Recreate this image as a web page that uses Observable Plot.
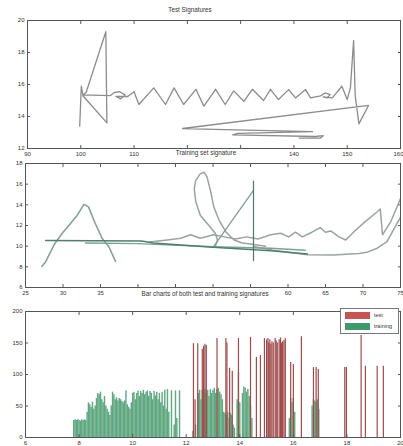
<!DOCTYPE html>
<html><head><meta charset="utf-8">
<script src="https://cdn.jsdelivr.net/npm/d3@7"></script>
<script src="https://cdn.jsdelivr.net/npm/@observablehq/plot@0.6"></script>
<style>
body{margin:0;background:#fff;font-family:"Liberation Sans",Arial,sans-serif;}
#wrap{position:relative;width:403px;height:446px;overflow:hidden;background:#fff}
#wrap svg{position:absolute;left:0;top:0;overflow:visible}
.t{position:absolute;font-size:6.3px;color:#333;white-space:nowrap;transform:translateX(-50%);background:#fff;line-height:7px;padding:0 2px}
.lg{position:absolute;left:340px;top:308px;width:57px;height:24px;border:1px solid #777;background:#fff}
.sw{position:absolute;left:4px;width:25px;height:7px}
.lt{position:absolute;left:33px;font-size:5.5px;color:#333;line-height:6px}
</style></head><body><div id="wrap"></div>
<script>
// ---------- data ----------
// Panel 1: test signature (pen trajectory)
const testX = [99.8,100.1,100.4,104.9,104.7,101.0,100.4,105.5,106.3,107.3,108.3,107.5,106.6,108.8,110.0,110.9,113.7,115.9,117.5,119.3,121.6,123.1,125.3,127.1,128.7,130.6,132.2,134.3,135.6,137.1,139.0,140.3,142.2,143.1,145.0,145.9,146.8,146.2,145.5,147.2,149.0,150.0,150.6,151.2,151.5,152.2,154.0,119.1,125.0,143.5,129.5,128.5,144.0,145.5,145.0,141.0];
const testY = [13.4,15.9,15.3,13.6,19.3,15.5,15.35,15.3,15.5,15.55,15.35,15.1,15.25,15.25,15.55,14.75,15.79,14.75,15.79,14.75,15.7,14.65,15.7,14.75,15.6,14.95,15.7,15.0,15.7,15.06,15.68,15.16,15.68,15.16,15.29,15.48,15.37,15.16,15.23,15.16,15.89,15.06,15.79,18.75,15.3,13.54,14.69,13.25,13.2,13.05,12.95,12.85,12.75,12.8,12.65,12.65];
const p1XTicks = [90,100,110,120,130,140,150,160];
const p1YTicks = [12,14,16,18,20];

// Panel 2: training set signature strokes
const trainAX = [27.2,27.7,28.8,29.9,31.0,31.9,32.8,33.4,34.3,35.2,36.1,36.8,37.0];
const trainAY = [8.05,8.5,10.13,11.25,12.2,13.0,14.04,13.8,12.2,10.77,9.97,8.85,8.53];
const trainFlat1X = [27.7,34.0,40.5,42.0,50.0,57.7,62.6];
const trainFlat1Y = [10.55,10.52,10.5,10.3,9.9,9.55,9.25];
const trainFlat2X = [33.0,40.0,41.5,50.0,57.7,62.3];
const trainFlat2Y = [10.3,10.25,10.2,9.95,9.8,9.6];
const trainVertX = [55.4,55.4];
const trainVertY = [8.6,16.3];
const trainDiagX = [50.1,55.4];
const trainDiagY = [9.97,15.4];
const trainLoopX = [50.3,50.6,50.3,49.4,48.3,47.7,47.5,47.7,48.3,48.8,49.2,49.7,50.1,50.8,51.7,52.8,53.9,55.0,57.0];
const trainLoopY = [9.97,10.6,11.25,12.05,13.0,14.3,15.57,16.37,17.0,17.17,16.7,15.25,13.8,12.53,11.4,10.6,10.3,10.2,10.0];
const trainWaveX = [41.5,43.9,45.7,47.0,48.3,50.1,51.5,53.0,54.5,56.0,57.7,59.0,60.1,61.0,61.9,63.2,64.3,65.0,65.7,66.8,67.7,68.8,70.3,71.9,72.3,72.6,73.7,75.0];
const trainWaveY = [10.4,10.6,10.77,11.1,10.77,11.1,10.9,10.7,10.9,10.7,11.1,11.25,10.9,11.35,10.9,11.35,11.8,11.35,11.47,10.9,10.6,11.4,12.37,13.33,13.6,11.1,12.37,14.6];
const trainLowX = [55.4,58.0,62.6,66.0,69.5,70.5,71.9,73.2,74.3,75.0];
const trainLowY = [9.97,9.6,9.17,9.15,9.3,9.4,9.8,10.45,11.9,12.8];
const p2XTicks = [25,30,35,40,45,50,55,60,65,70,75];
const p2YTicks = [6,8,10,12,14,16,18];

// Panel 3: bar charts
const trainBarX = [7.80,7.85,7.90,7.95,8.00,8.05,8.10,8.15,8.20,8.25,8.30,8.35,8.40,8.45,8.50,8.55,8.60,8.65,8.70,8.75,8.80,8.85,8.90,8.95,9.00,9.05,9.10,9.15,9.20,9.25,9.30,9.35,9.40,9.45,9.50,9.55,9.60,9.65,9.70,9.75,9.80,9.85,9.90,9.95,10.00,10.05,10.10,10.15,10.20,10.25,10.30,10.35,10.40,10.45,10.50,10.55,10.60,10.65,10.70,10.75,10.80,10.85,10.90,10.95,11.00,11.05,11.10,11.15,11.20,11.25,11.30,11.35,11.45,11.55,11.60,11.65,11.75,
  12.25,12.35,12.45,12.50,12.55,12.60,12.65,12.70,12.75,12.80,12.85,12.90,12.95,13.00,13.05,13.10,13.15,13.20,13.25,13.30,13.35,13.40,13.45,13.50,13.55,13.60,13.65,13.70,13.75,13.80,13.90,13.95,14.00,14.10,14.15,14.20,14.25,14.30,14.35,14.40,14.45,15.85,15.90,15.95,16.00,16.05,16.70,16.75,16.80,16.85,16.90,16.95];
const trainBarH = [27,28,27,28,27,26,28,27,28,27,40,55,52,48,56,45,50,62,70,68,72,60,55,65,50,45,40,35,50,72,68,60,63,58,62,60,57,55,58,74,52,48,45,55,70,72,60,70,74,65,73,70,75,68,72,74,65,73,70,60,73,66,72,60,70,55,72,50,75,45,76,40,74,20,74,30,74,
  10,20,70,75,60,75,72,76,70,75,65,76,70,75,78,70,76,78,72,68,60,40,38,35,40,30,38,35,20,15,60,103,55,70,80,78,72,76,65,50,30,30,62,55,62,40,50,60,58,55,60,45];
const testBarX = [12.27,12.33,12.43,12.60,12.65,12.70,12.75,13.15,13.48,13.52,13.62,13.72,13.95,14.40,14.62,14.77,14.92,15.00,15.05,15.08,15.12,15.16,15.20,15.25,15.32,15.36,15.40,15.47,15.52,15.56,15.60,15.65,15.70,15.90,16.00,16.30,16.75,16.85,16.93,17.92,17.98,18.53,18.69,19.13,19.36];
const testBarH = [149,60,149,140,145,148,146,157,157,150,110,105,157,159,127,130,157,155,157,150,155,148,152,150,157,153,150,155,158,150,152,154,157,119,116,160,111,111,108,111,111,162,113,113,113];
const p3XTicks = [6,8,10,12,14,16,18,20];
const p3YTicks = [0,50,100,150,200];
const legendLabels = ["test","training"];
const titles = ["Test Signatures","Training set signature","Bar charts of both test and training signatures"];

// ---------- helpers ----------
const W = 403, H = 446;
const pts = (xs, ys) => xs.map((x, i) => ({x, y: ys[i]}));
const bars = (xs, hs) => xs.map((x, i) => ({x, h: hs[i]}));
const style = {background: "transparent", fontSize: "6px", fontFamily: "Liberation Sans, Arial, sans-serif", color: "#333", overflow: "visible"};
const boxAxes = (xt, yt, xfmt) => [
  Plot.frame({stroke: "#555", strokeWidth: 1}),
  Plot.axisX(xt, {anchor: "bottom", tickSize: -3, tickPadding: 6, label: null, stroke: "#555", tickFormat: xfmt || (d => d)}),
  Plot.axisX(xt, {anchor: "top", tickSize: -3, tickFormat: () => "", label: null, stroke: "#555"}),
  Plot.axisY(yt, {anchor: "left", tickSize: -3, tickPadding: 6, label: null, stroke: "#555"}),
  Plot.axisY(yt, {anchor: "right", tickSize: -3, tickFormat: () => "", label: null, stroke: "#555"})
];

const wrap = document.getElementById("wrap");

// Panel 1 (labels under the next title are hidden, as in the reference; last label kept inside the page)
const lastP1 = p1XTicks[p1XTicks.length - 1];
wrap.append(Plot.plot({
  width: W, height: H, style,
  marginLeft: 27, marginRight: 3, marginTop: 20, marginBottom: H - 148,
  x: {domain: [90, 160]}, y: {domain: [12, 20]},
  marks: [
    ...boxAxes(p1XTicks, p1YTicks, d => (d === 120 || d === 130 || d === lastP1) ? "" : d),
    Plot.text([lastP1], {x: d => d, frameAnchor: "bottom", lineAnchor: "top", dy: 3, textAnchor: "end", dx: 3, text: d => String(d), fill: "#333"}),
    Plot.line(pts(testX, testY), {x: "x", y: "y", stroke: "#8c8c8c", strokeWidth: 1.3})
  ]
}));

// Panel 2
const lineOpts = (c, w) => ({x: "x", y: "y", stroke: c, strokeWidth: w, clip: true});
wrap.append(Plot.plot({
  width: W, height: H, style,
  marginLeft: 25, marginRight: 3, marginTop: 163, marginBottom: H - 287,
  x: {domain: [25, 75]}, y: {domain: [6, 18]},
  marks: [
    ...boxAxes(p2XTicks, p2YTicks, d => (d >= 40 && d <= 55) ? "" : d),
    Plot.line(pts(trainWaveX, trainWaveY), lineOpts("#9ba39f", 1.5)),
    Plot.line(pts(trainLowX, trainLowY), lineOpts("#9ba39f", 1.5)),
    Plot.line(pts(trainLoopX, trainLoopY), lineOpts("#9aa39e", 1.5)),
    Plot.line(pts(trainAX, trainAY), lineOpts("#86a394", 1.6)),
    Plot.line(pts(trainDiagX, trainDiagY), lineOpts("#7f9f90", 1.3)),
    Plot.line(pts(trainFlat2X, trainFlat2Y), lineOpts("#7ea394", 1.4)),
    Plot.line(pts(trainFlat1X, trainFlat1Y), lineOpts("#4b8070", 1.5)),
    Plot.line(pts(trainVertX, trainVertY), lineOpts("#4b7a6b", 1.2))
  ]
}));

// Panel 3
wrap.append(Plot.plot({
  width: W, height: H, style,
  marginLeft: 25, marginRight: 3, marginTop: 311, marginBottom: H - 437,
  x: {domain: [6, 20]}, y: {domain: [0, 200]},
  marks: [
    Plot.ruleX(bars(trainBarX, trainBarH), {x: "x", y1: 0, y2: "h", stroke: "#5fa882", strokeWidth: 1.45}),
    Plot.ruleX(bars(testBarX, testBarH), {x: "x", y1: 0, y2: "h", stroke: "#a04a4a", strokeWidth: 1.2}),
    ...boxAxes(p3XTicks, p3YTicks)
  ]
}));

// Titles
const tpos = [[190, 6], [206, 149], [205, 290]];
titles.forEach((t, i) => {
  const d = document.createElement("div");
  d.className = "t"; d.textContent = t;
  d.style.left = tpos[i][0] + "px"; d.style.top = tpos[i][1] + "px";
  wrap.append(d);
});

// Legend
const lg = document.createElement("div");
lg.className = "lg";
const swColors = ["#c85452", "#3f9a6b"];
legendLabels.forEach((l, i) => {
  const s = document.createElement("div");
  s.className = "sw"; s.style.top = (3 + i * 11) + "px"; s.style.background = swColors[i];
  const t = document.createElement("div");
  t.className = "lt"; t.style.top = (3 + i * 11) + "px"; t.textContent = l;
  lg.append(s, t);
});
wrap.append(lg);
</script>
</body></html>
